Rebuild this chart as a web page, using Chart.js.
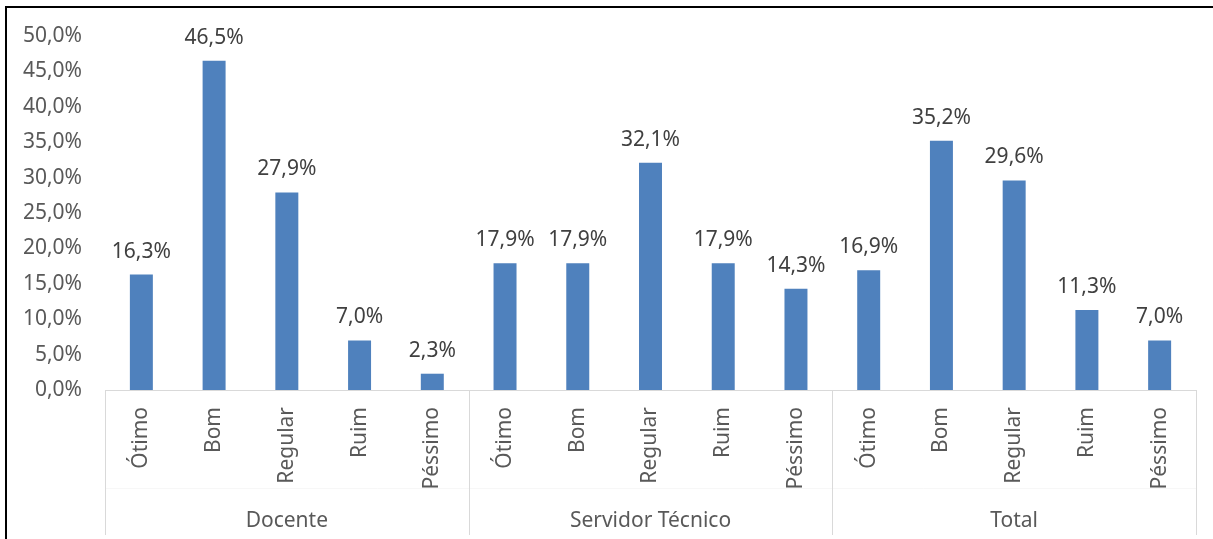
<!DOCTYPE html>
<html lang="pt-BR">
<head>
<meta charset="utf-8">
<title>Avaliação por categoria</title>
<script src="https://cdn.jsdelivr.net/npm/chart.js@4.4.1/dist/chart.umd.min.js"></script>
<style>
  html, body { margin: 0; padding: 0; background: #fff; }
  #avaliacaoChart { display: block; }
</style>
</head>
<body>
<canvas id="avaliacaoChart" width="1213" height="539"></canvas>
<script>
const grupos = ["Docente", "Servidor Técnico", "Total"];
const conceitos = ["Ótimo", "Bom", "Regular", "Ruim", "Péssimo"];

const docente = [16.3, 46.5, 27.9, 7.0, 2.3];
const servidorTecnico = [17.9, 17.9, 32.1, 17.9, 14.3];
const total = [16.9, 35.2, 29.6, 11.3, 7.0];

const yTicks = [0, 5, 10, 15, 20, 25, 30, 35, 40, 45, 50];

const FONT = "'Noto Sans', 'Open Sans', sans-serif";
const fmt = (v) => v.toFixed(1).replace(".", ",") + "%";

const labels = [];
grupos.forEach(() => conceitos.forEach((c) => labels.push(c)));
const valores = [...docente, ...servidorTecnico, ...total];

// moldura preta (topo e esquerda)
const frame = {
  id: "frame",
  beforeDraw(chart) {
    const { ctx, width, height } = chart;
    ctx.save();
    ctx.fillStyle = "#000";
    ctx.fillRect(5, 6, width - 5, 2);
    ctx.fillRect(5, 6, 2, height - 6);
    ctx.restore();
  },
};

// rótulos de valor acima das barras
const valueLabels = {
  id: "valueLabels",
  afterDatasetsDraw(chart) {
    const { ctx } = chart;
    const meta = chart.getDatasetMeta(0);
    ctx.save();
    ctx.font = "21px " + FONT;
    ctx.fillStyle = "#404040";
    ctx.textAlign = "center";
    ctx.textBaseline = "alphabetic";
    meta.data.forEach((bar, i) => {
      ctx.fillText(fmt(valores[i]), bar.x, bar.y - 17);
    });
    ctx.restore();
  },
};

// segundo nível do eixo: separadores e nomes dos grupos
const groupAxis = {
  id: "groupAxis",
  afterDraw(chart) {
    const { ctx, chartArea } = chart;
    const x = chart.scales.x;
    const n = conceitos.length;
    const bottom = chartArea.bottom;
    const edges = [chartArea.left];
    for (let g = 1; g < grupos.length; g++) {
      edges.push((x.getPixelForValue(g * n - 1) + x.getPixelForValue(g * n)) / 2);
    }
    edges.push(chartArea.right);

    ctx.save();
    ctx.strokeStyle = "#f7f7f7";
    ctx.lineWidth = 1;
    ctx.beginPath();
    ctx.moveTo(chartArea.left, bottom + 98.5);
    ctx.lineTo(chartArea.right, bottom + 98.5);
    ctx.stroke();

    ctx.strokeStyle = "#d9d9d9";
    edges.forEach((e) => {
      const px = Math.round(e) + 0.5;
      ctx.beginPath();
      ctx.moveTo(px, bottom);
      ctx.lineTo(px, bottom + 145);
      ctx.stroke();
    });

    ctx.font = "21px " + FONT;
    ctx.fillStyle = "#595959";
    ctx.textAlign = "center";
    ctx.textBaseline = "alphabetic";
    grupos.forEach((g, i) => {
      ctx.fillText(g, (edges[i] + edges[i + 1]) / 2, bottom + 137);
    });
    ctx.restore();
  },
};

new Chart(document.getElementById("avaliacaoChart"), {
  type: "bar",
  data: {
    labels: labels,
    datasets: [
      {
        data: valores,
        backgroundColor: "#4f81bd",
        barPercentage: 0.316,
        categoryPercentage: 1,
      },
    ],
  },
  options: {
    responsive: false,
    animation: false,
    layout: { padding: { top: 36, right: 17, left: 0, bottom: 0 } },
    scales: {
      x: {
        grid: { display: false, drawTicks: false },
        border: { display: true, color: "#d9d9d9", width: 1 },
        ticks: {
          autoSkip: false,
          maxRotation: 90,
          minRotation: 90,
          padding: 17,
          color: "#595959",
          font: { family: FONT, size: 21 },
        },
        afterFit(scale) {
          scale.height = 149;
        },
      },
      y: {
        min: 0,
        max: 50,
        afterBuildTicks(scale) {
          scale.ticks = yTicks.map((v) => ({ value: v }));
        },
        grid: { display: false, drawTicks: false },
        border: { display: false },
        ticks: {
          padding: 23,
          color: "#595959",
          font: { family: FONT, size: 21 },
          callback: (v) => fmt(v),
        },
        afterFit(scale) {
          scale.width = 105;
        },
      },
    },
    plugins: {
      legend: { display: false },
      tooltip: { enabled: false },
    },
  },
  plugins: [frame, valueLabels, groupAxis],
});
</script>
</body>
</html>
